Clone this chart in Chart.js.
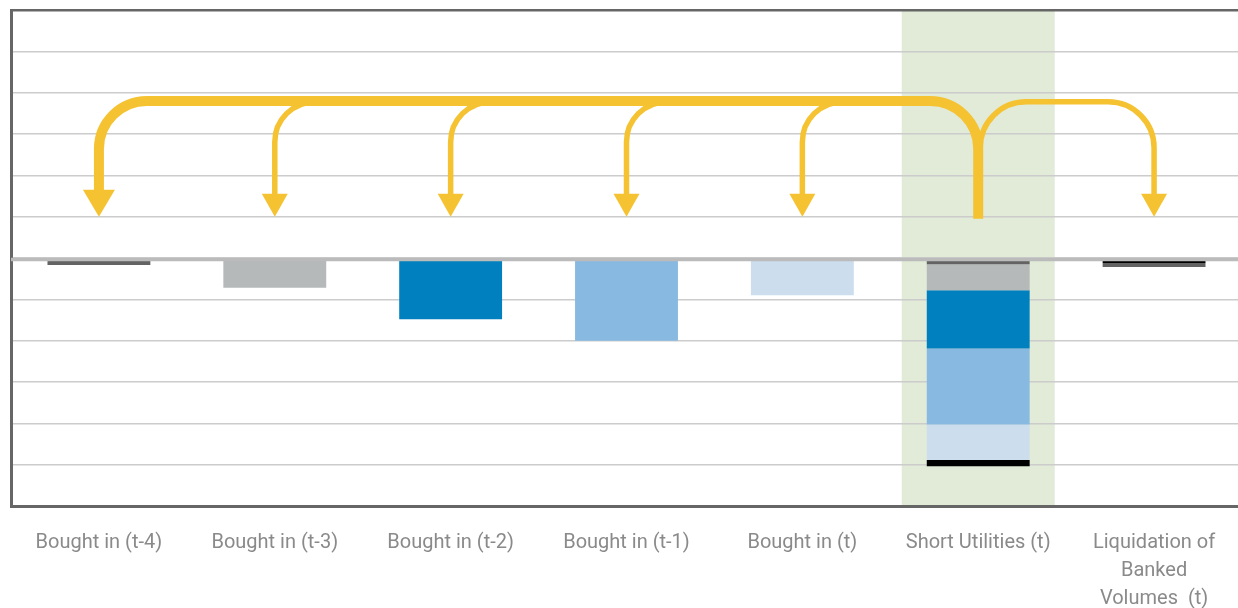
<!DOCTYPE html>
<html>
<head>
<meta charset="utf-8">
<script src="https://cdn.jsdelivr.net/npm/chart.js@4.4.1/dist/chart.umd.min.js"></script>
<style>
  html, body { margin: 0; padding: 0; background: #fff; overflow: hidden; }
  .frame { width: 1238px; height: 608px; overflow: hidden; position: relative; }
  #flow-chart { position: absolute; left: 0; top: 0; }
</style>
</head>
<body>
<div class="frame">
  <canvas id="flow-chart" width="1246" height="636"></canvas>
</div>
<script>
/* Utility vintages flowing into short utilities — stacked bar chart */

const categories = [
  'Bought in (t-4)',
  'Bought in (t-3)',
  'Bought in (t-2)',
  'Bought in (t-1)',
  'Bought in (t)',
  'Short Utilities (t)',
  ['Liquidation of', 'Banked', 'Volumes  (t)'],
];

// one series per vintage, stacked downward from zero
const vintageT4 = [-0.17, 0, 0, 0, 0, -0.15, 0];
const vintageT3 = [0, -0.72, 0, 0, 0, -0.63, 0];
const vintageT2 = [0, 0, -1.48, 0, 0, -1.41, 0];
const vintageT1 = [0, 0, 0, -2.0, 0, -1.84, 0];
const vintageT0 = [0, 0, 0, 0, -0.9, -0.86, 0];
const shortfall = [0, 0, 0, 0, 0, -0.15, -0.12];
const banked    = [0, 0, 0, 0, 0, 0, -0.1];

const yMin = -6, yMax = 6;

// arrow levels (axis units)
const arrowTrunkLevel  = 3.8;
const arrowBranchLevel = 3.78;
const arrowTipLevel    = 1;
const sourceIndex = 5;                 // arrows leave the short utilities bar
const thinTargets = [1, 2, 3, 4];      // branches off the main trunk
const mainTarget  = 0;
const sideTarget  = 6;
const highlightIndex = 5;

const COLORS = {
  dark:   '#636363',
  grey:   '#B5B9BA',
  blue:   '#0080BE',
  light:  '#88B9E0',
  pale:   '#CCDDEE',
  black:  '#000000',
  band:   '#E1EBD8',
  arrow:  '#F5C232',
  grid:   '#CCCCCC',
  zero:   '#BBBBBB',
  frame:  '#666666',
  label:  '#8A8A8A',
};

const highlightBand = {
  id: 'highlightBand',
  beforeDraw(chart) {
    const { ctx, chartArea, scales } = chart;
    const x = scales.x.getPixelForValue(highlightIndex);
    const w = (scales.x.getPixelForValue(1) - scales.x.getPixelForValue(0)) * 0.87;
    ctx.save();
    ctx.fillStyle = COLORS.band;
    ctx.fillRect(x - w / 2, chartArea.top, w, chartArea.bottom - chartArea.top);
    ctx.restore();
  },
};

function arrowHead(ctx, x, tipY, w, h) {
  ctx.beginPath();
  ctx.moveTo(x - w / 2, tipY - h);
  ctx.lineTo(x + w / 2, tipY - h);
  ctx.lineTo(x, tipY);
  ctx.closePath();
  ctx.fill();
}

const flowArrows = {
  id: 'flowArrows',
  afterDatasetsDraw(chart) {
    const { ctx, chartArea, scales } = chart;
    const xs = scales.x, ys = scales.y;

    // zero line sits over the bars
    const y0 = ys.getPixelForValue(0);
    ctx.save();
    ctx.strokeStyle = COLORS.zero;
    ctx.lineWidth = 3.5;
    ctx.beginPath();
    ctx.moveTo(chartArea.left, y0 + 1.5);
    ctx.lineTo(chartArea.right, y0 + 1.5);
    ctx.stroke();

    const trunkY  = ys.getPixelForValue(arrowTrunkLevel);
    const branchY = ys.getPixelForValue(arrowBranchLevel);
    const tipY    = ys.getPixelForValue(arrowTipLevel);
    const srcX    = xs.getPixelForValue(sourceIndex);

    ctx.strokeStyle = COLORS.arrow;
    ctx.fillStyle = COLORS.arrow;
    ctx.lineCap = 'butt';
    ctx.lineJoin = 'round';

    // thin branches hanging off the trunk
    ctx.lineWidth = 5.5;
    thinTargets.forEach(i => {
      const x = xs.getPixelForValue(i);
      const r = 40;
      ctx.beginPath();
      ctx.moveTo(x + r + 10, trunkY + 1);
      ctx.arcTo(x, trunkY + 1, x, trunkY + 1 + r, r);
      ctx.lineTo(x, tipY - 20);
      ctx.stroke();
      arrowHead(ctx, x, tipY, 26, 23);
    });

    // side arrow to the liquidation bar
    const sideX = xs.getPixelForValue(sideTarget);
    ctx.beginPath();
    ctx.moveTo(srcX + 2, trunkY + 70);
    ctx.arcTo(srcX + 2, branchY, srcX + 48, branchY, 46);
    ctx.arcTo(sideX, branchY, sideX, branchY + 46, 46);
    ctx.lineTo(sideX, tipY - 20);
    ctx.stroke();
    arrowHead(ctx, sideX, tipY, 26, 23);

    // main trunk from short utilities back to the oldest vintage
    const mainX = xs.getPixelForValue(mainTarget);
    ctx.lineWidth = 10;
    ctx.beginPath();
    ctx.moveTo(srcX, tipY + 2);
    ctx.arcTo(srcX, trunkY, srcX - 48, trunkY, 48);
    ctx.arcTo(mainX, trunkY, mainX, trunkY + 48, 48);
    ctx.lineTo(mainX, tipY - 24);
    ctx.stroke();
    arrowHead(ctx, mainX, tipY, 32, 27);
    ctx.restore();
  },
};

const bar = (label, data, color) => ({
  label, data,
  backgroundColor: color,
  borderWidth: 0,
  barPercentage: 0.585,
  categoryPercentage: 1,
});

new Chart(document.getElementById('flow-chart'), {
  type: 'bar',
  data: {
    labels: categories,
    datasets: [
      bar('t-4', vintageT4, COLORS.dark),
      bar('t-3', vintageT3, COLORS.grey),
      bar('t-2', vintageT2, COLORS.blue),
      bar('t-1', vintageT1, COLORS.light),
      bar('t',   vintageT0, COLORS.pale),
      bar('shortfall', shortfall, COLORS.black),
      bar('banked', banked, COLORS.dark),
    ],
  },
  options: {
    responsive: false,
    animation: false,
    layout: { padding: { left: 11, top: 10, right: 4, bottom: 0 } },
    plugins: {
      legend: { display: false },
      tooltip: { enabled: false },
    },
    scales: {
      x: {
        stacked: true,
        grid: { display: false, drawTicks: false },
        border: { display: true, color: COLORS.frame, width: 3 },
        ticks: {
          color: COLORS.label,
          font: { family: 'Roboto, sans-serif', size: 20, lineHeight: 1.4 },
          padding: 23,
          maxRotation: 0,
          autoSkip: false,
        },
      },
      y: {
        stacked: true,
        min: yMin,
        max: yMax,
        ticks: { display: false, stepSize: 1 },
        grid: {
          drawTicks: false,
          color: c => c.tick.value === yMax ? COLORS.frame : COLORS.grid,
          lineWidth: c => c.tick.value === yMax ? 2.5 : 1.5,
        },
        border: { display: true, color: COLORS.frame, width: 3 },
      },
    },
  },
  plugins: [highlightBand, flowArrows],
});
</script>
</body>
</html>
